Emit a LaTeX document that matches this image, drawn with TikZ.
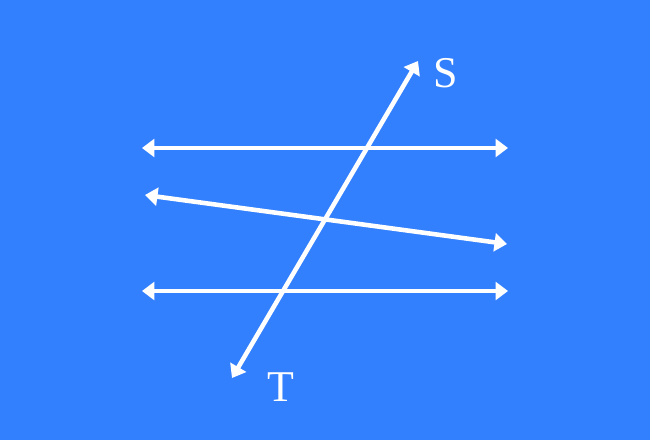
\documentclass[tikz,border=0pt]{standalone}
\usepackage{fontspec}
\setmainfont{Liberation Serif}
\usepackage{tikz}
\usetikzlibrary{arrows.meta, positioning, calc}
\definecolor{bgblue}{RGB}{51,128,255}

\begin{document}
\begin{tikzpicture}
[
    x=0.02cm, y=0.02cm,
    line/.style={white, line width=2.6pt, {Triangle[length=0.25cm,width=0.36cm]}-{Triangle[length=0.25cm,width=0.36cm]}},
    letter/.style={text=white, font=\fontsize{25}{28}\selectfont, inner sep=0pt}
]

% Background and bounding box
\fill[bgblue] (0,0) rectangle (650,440);
\useasboundingbox (0,0) rectangle (650,440);

% End points of the lines
\coordinate (a1) at (142,292);
\coordinate (a2) at (508,292);
\coordinate (b1) at (145,245);
\coordinate (b2) at (507,196);
\coordinate (c1) at (142,149);
\coordinate (c2) at (508,149);
\coordinate (t) at (232,62);
\coordinate (s) at (418,379);

% Labels
\node[letter] (labS) at (446,367) {S};
\node[letter] (labT) at (281,53) {T};

% Three lines and the transversal
\draw[line] (a1) -- (a2);
\draw[line] (b1) -- (b2);
\draw[line] (c1) -- (c2);
\draw[line] (t) -- (s);

\end{tikzpicture}
\end{document}
